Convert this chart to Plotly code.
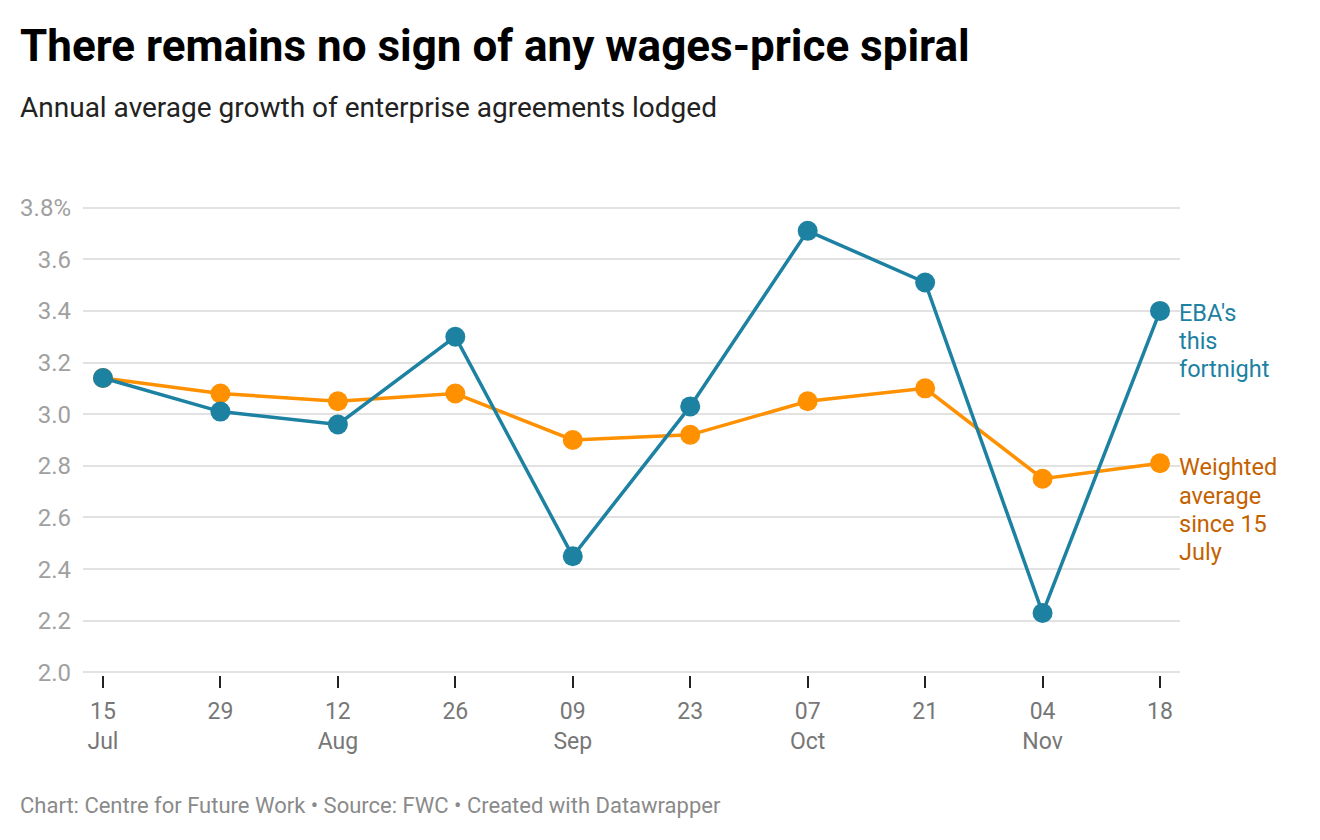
import plotly.graph_objects as go

dates_day = ["15", "29", "12", "26", "09", "23", "07", "21", "04", "18"]
dates_month = ["Jul", "", "Aug", "", "Sep", "", "Oct", "", "Nov", ""]
eba_fortnight = [3.14, 3.01, 2.96, 3.30, 2.45, 3.03, 3.71, 3.51, 2.23, 3.40]
weighted_avg = [3.14, 3.08, 3.05, 3.08, 2.90, 2.92, 3.05, 3.10, 2.75, 2.81]
y_ticks = [2.0, 2.2, 2.4, 2.6, 2.8, 3.0, 3.2, 3.4, 3.6, 3.8]
y_ticktext = ["2.0", "2.2", "2.4", "2.6", "2.8", "3.0", "3.2", "3.4", "3.6", "3.8%"]
eba_label = ["EBA's", "this", "fortnight"]
wavg_label = ["Weighted", "average", "since 15", "July"]

TEAL = "#1d81a2"
ORANGE = "#ff9000"
ORANGE_TXT = "#c46200"

# figure layout (the page is offset 8px by the body margin)
L, R, T, B = 75, 148, 197, 173
PW = 1320 - L - R
PH = 840 - T - B


def py(fig_y):
    return 1 - (fig_y - T) / PH


def px(fig_x):
    return (fig_x - L) / PW


x = list(range(len(dates_day)))
ticktext = [f"{d}<br>{m}" if m else f"{d}<br> " for d, m in zip(dates_day, dates_month)]

fig = go.Figure()
fig.add_trace(go.Scatter(x=x, y=weighted_avg, mode="lines+markers",
                         line=dict(color=ORANGE, width=3.5),
                         marker=dict(color=ORANGE, size=20), name="Weighted average since 15 July",
                         cliponaxis=False))
fig.add_trace(go.Scatter(x=x, y=eba_fortnight, mode="lines+markers",
                         line=dict(color=TEAL, width=3.5),
                         marker=dict(color=TEAL, size=20), name="EBA's this fortnight",
                         cliponaxis=False))

fig.update_layout(
    width=1320, height=840,
    margin=dict(l=L, r=R, t=T, b=B),
    paper_bgcolor="white", plot_bgcolor="white",
    showlegend=False,
    font=dict(family="Roboto", color="#333"),
    xaxis=dict(range=[-0.17, 9.17], tickvals=x, ticktext=ticktext,
               showgrid=False, zeroline=False, showline=False,
               ticks="outside", ticklen=12, tickwidth=2, tickcolor="#222",
               tickfont=dict(size=23, color="#777"), ticklabelstandoff=3),
    yaxis=dict(range=[1.99, 3.81], tickvals=y_ticks, ticktext=y_ticktext,
               showgrid=True, gridcolor="#e2e2e2", gridwidth=2, zeroline=False,
               showline=False, ticks="", tickfont=dict(size=24, color="#a0a0a0"),
               ticklabelstandoff=11),
)

fig.add_annotation(xref="paper", yref="paper", x=px(10), y=py(38),
                   xanchor="left", yanchor="middle", showarrow=False,
                   text="<b>There remains no sign of any wages-price spiral</b>",
                   font=dict(size=44, color="#000", family="Roboto"))
fig.add_annotation(xref="paper", yref="paper", x=px(10), y=py(99),
                   xanchor="left", yanchor="middle", showarrow=False,
                   text="Annual average growth of enterprise agreements lodged",
                   font=dict(size=28, color="#222", family="Roboto"))
fig.add_annotation(xref="paper", yref="paper", x=px(10), y=py(797),
                   xanchor="left", yanchor="middle", showarrow=False,
                   text="Chart: Centre for Future Work • Source: FWC • Created with Datawrapper",
                   font=dict(size=22, color="#8a8a8a", family="Roboto"))

LINE_H = 28.3
for i, line in enumerate(eba_label):
    fig.add_annotation(x=9, y=eba_fortnight[-1], xref="x", yref="y", xanchor="left", yanchor="middle",
                       xshift=17, yshift=-2 - i * LINE_H, showarrow=False, align="left",
                       text=line, font=dict(size=23.5, color=TEAL, family="Roboto"))
for i, line in enumerate(wavg_label):
    fig.add_annotation(x=9, y=weighted_avg[-1], xref="x", yref="y", xanchor="left", yanchor="middle",
                       xshift=17, yshift=-4 - i * LINE_H, showarrow=False, align="left",
                       text=line, font=dict(size=23.5, color=ORANGE_TXT, family="Roboto"))

fig.write_html("out.html")
